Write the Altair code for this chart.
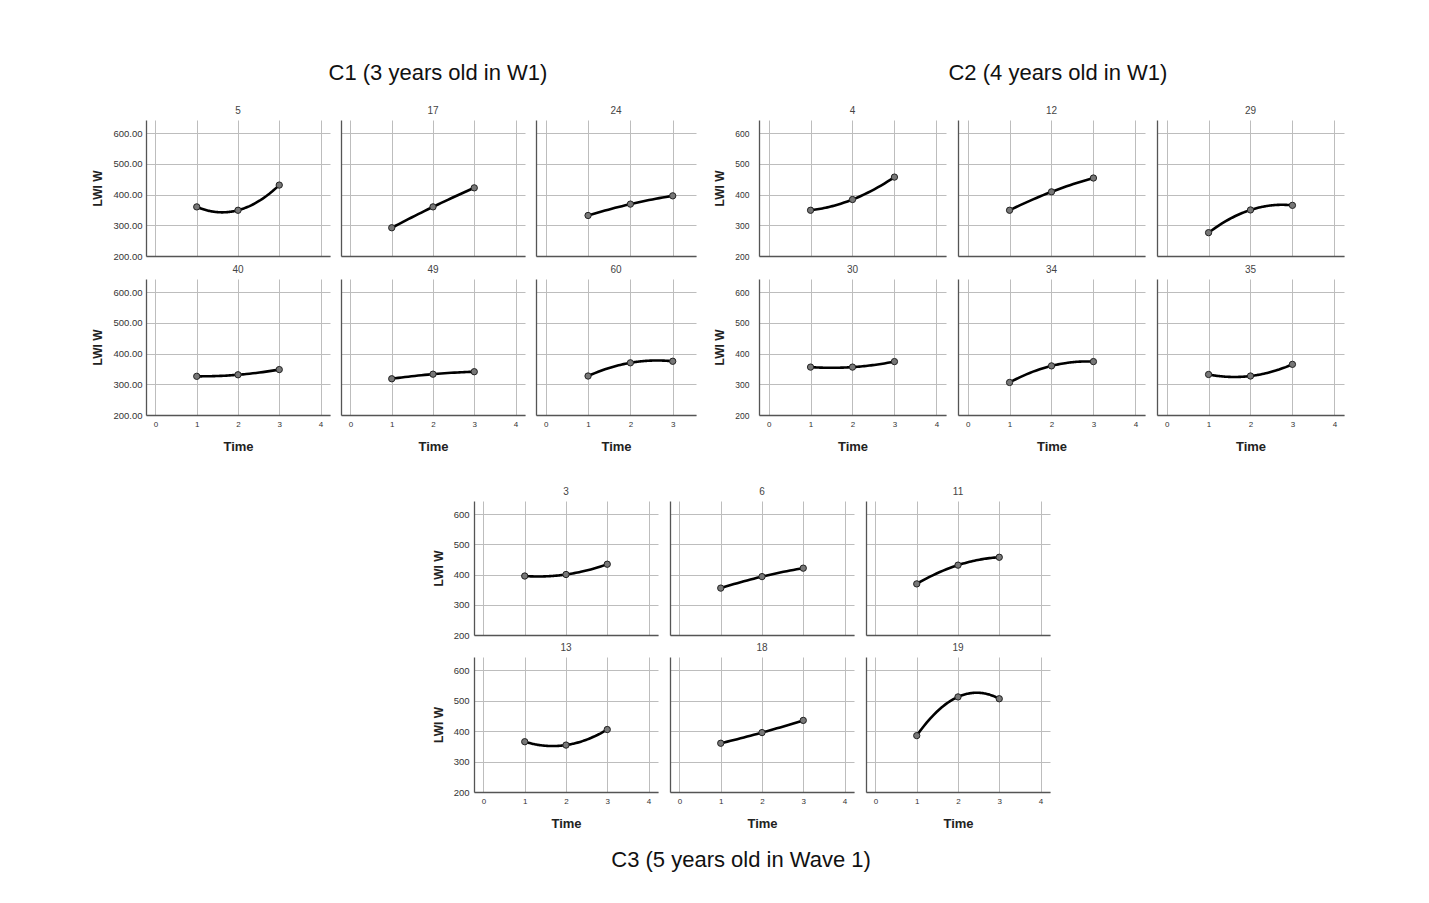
import altair as alt
import pandas as pd

times = [1, 2, 3]
x_ticks = [0, 1, 2, 3, 4]
y_ticks = [200, 300, 400, 500, 600]

# C1 (3 years old in W1)
c1_ids = ["5", "17", "24", "40", "49", "60"]
c1_w1 = [360, 292, 332, 326, 318, 327]
c1_w2 = [349, 360, 369, 331, 333, 370]
c1_w3 = [431, 422, 396, 348, 341, 375]

# C2 (4 years old in W1)
c2_ids = ["4", "12", "29", "30", "34", "35"]
c2_w1 = [349, 349, 276, 356, 306, 332]
c2_w2 = [384, 409, 350, 356, 360, 327]
c2_w3 = [457, 454, 365, 374, 374, 365]

# C3 (5 years old in Wave 1)
c3_ids = ["3", "6", "11", "13", "18", "19"]
c3_w1 = [395, 355, 369, 365, 360, 385]
c3_w2 = [400, 393, 431, 354, 395, 512]
c3_w3 = [434, 421, 457, 405, 435, 506]

FONT = "Liberation Sans"


def cohort_df(ids, w1, w2, w3):
    rows = []
    for i, pid in enumerate(ids):
        for t, v in zip(times, [w1[i], w2[i], w3[i]]):
            rows.append({"id": pid, "time": t, "lwi": v})
    return pd.DataFrame(rows)


def panel(df, pid, width, height, xmax, show_x, show_y, yfmt, ylab_size, ylab_pad):
    xvals = [v for v in x_ticks if v <= xmax]
    xaxis_kw = dict(values=xvals, tickCount=10, grid=True, ticks=False, labels=show_x,
                    domainColor="#555", domainWidth=1.3, gridColor="#bdbdbd",
                    labelFontSize=8, labelColor="#333", labelPadding=5, labelFont=FONT,
                    labelOverlap=False, format="d")
    if show_x:
        xaxis_kw.update(title="Time", titleFontSize=13, titleFontWeight="bold",
                        titleColor="#222", titlePadding=12, titleFont=FONT)
    else:
        xaxis_kw.update(title=None)
    yaxis_kw = dict(values=y_ticks, tickCount=10, grid=True, ticks=False, labels=show_y,
                    domainColor="#555", domainWidth=1.3, gridColor="#bdbdbd",
                    labelFontSize=ylab_size, labelColor="#333", labelPadding=ylab_pad,
                    labelFont=FONT, labelOverlap=False, format=yfmt)
    if show_y:
        yaxis_kw.update(title="LWI W", titleFontSize=12, titleFontWeight="bold",
                        titleColor="#222", titlePadding=8, titleFont=FONT)
    else:
        yaxis_kw.update(title=None)
    xs = alt.Scale(domain=[-0.23, xmax], nice=False, zero=False)
    ys = alt.Scale(domain=[200, 643], nice=False, zero=False)
    base = alt.Chart(df).transform_filter(alt.datum.id == pid)
    line = base.transform_regression(
        "time", "lwi", method="poly", order=2, extent=[1, 3]
    ).mark_line(color="black", strokeWidth=2.6).encode(
        x=alt.X("time:Q", scale=xs, axis=alt.Axis(**xaxis_kw)),
        y=alt.Y("lwi:Q", scale=ys, axis=alt.Axis(**yaxis_kw)),
    )
    pts = base.mark_circle(size=40, color="#777", opacity=1, stroke="#222",
                           strokeWidth=1).encode(x="time:Q", y="lwi:Q")
    return alt.layer(line, pts).properties(
        width=width, height=height,
        title=alt.TitleParams(pid, fontSize=10, fontWeight="normal", color="#444",
                              font=FONT, offset=4),
    )


def block(df, ids, widths, xmaxs, heights, hspace, vspace, yfmt, ylab_size,
          ylab_pad, title):
    rows = []
    for r in range(2):
        charts = []
        for c in range(3):
            pid = ids[r * 3 + c]
            charts.append(panel(df, pid, widths[c], heights[r], xmaxs[c], r == 1,
                                c == 0, yfmt, ylab_size, ylab_pad))
        rows.append(alt.hconcat(*charts, spacing=hspace))
    return alt.vconcat(*rows, spacing=vspace, title=title)


df1 = cohort_df(c1_ids, c1_w1, c1_w2, c1_w3)
df2 = cohort_df(c2_ids, c2_w1, c2_w2, c2_w3)
df3 = cohort_df(c3_ids, c3_w1, c3_w2, c3_w3)

t1 = alt.TitleParams("C1 (3 years old in W1)", fontSize=22, fontWeight="normal",
                     font=FONT, color="#111", anchor="middle", offset=21, dx=44)
t2 = alt.TitleParams("C2 (4 years old in W1)", fontSize=22, fontWeight="normal",
                     font=FONT, color="#111", anchor="middle", offset=21, dx=29)
t3 = alt.TitleParams("C3 (5 years old in Wave 1)", fontSize=22, fontWeight="normal",
                     font=FONT, color="#111", anchor="middle", orient="bottom",
                     offset=20)

b1 = block(df1, c1_ids, [184, 184, 160], [4.23, 4.23, 3.55], [136, 136], 11, 4,
           ".2f", 9.5, 4, t1)
b2 = block(df2, c2_ids, [187, 187, 187], [4.23, 4.23, 4.23], [136, 136], 12, 4,
           "d", 8.5, 10, t2)
b3 = block(df3, c3_ids, [184, 184, 184], [4.23, 4.23, 4.23], [134, 135], 12, 3,
           "d", 9.5, 5, t3)

spacer = alt.Chart(pd.DataFrame({"a": [0]})).mark_point(opacity=0).encode(
    x=alt.value(0), y=alt.value(0)).properties(width=286, height=10)

top = alt.hconcat(b1, b2, spacing=17)
bottom = alt.hconcat(spacer, b3, spacing=0)

chart = alt.vconcat(top, bottom, spacing=34).properties(
    padding={"left": 83, "top": 54, "right": 5, "bottom": 5},
    background="white",
).configure_view(strokeWidth=0)

chart.save("out.html", embed_options={"renderer": "svg", "actions": False})
